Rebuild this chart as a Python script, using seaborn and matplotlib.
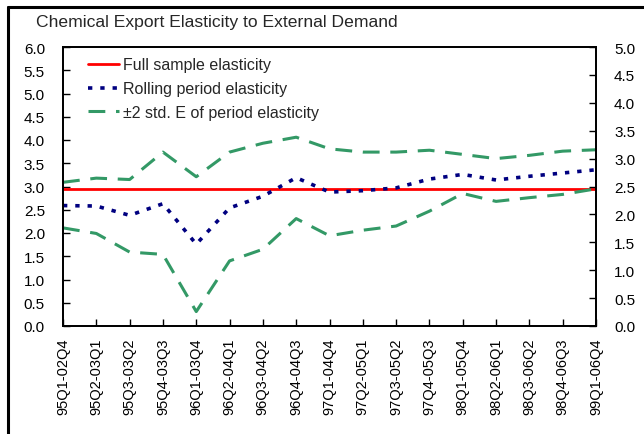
import matplotlib
matplotlib.use("Agg")
import matplotlib.pyplot as plt
import seaborn as sns
import numpy as np
import pandas as pd
from matplotlib.lines import Line2D

categories = ["95Q1-02Q4", "95Q2-03Q1", "95Q3-03Q2", "95Q4-03Q3", "96Q1-03Q4",
              "96Q2-04Q1", "96Q3-04Q2", "96Q4-04Q3", "97Q1-04Q4", "97Q2-05Q1",
              "97Q3-05Q2", "97Q4-05Q3", "98Q1-05Q4", "98Q2-06Q1", "98Q3-06Q2",
              "98Q4-06Q3", "99Q1-06Q4"]
full_sample = [2.95] * 17
rolling = [2.59, 2.58, 2.38, 2.63, 1.76, 2.54, 2.79, 3.19, 2.88, 2.91,
           2.97, 3.16, 3.26, 3.14, 3.22, 3.29, 3.36]
upper = [3.09, 3.18, 3.15, 3.74, 3.21, 3.74, 3.93, 4.06, 3.81, 3.74,
         3.74, 3.78, 3.69, 3.60, 3.67, 3.76, 3.79]
lower = [2.11, 1.99, 1.59, 1.54, 0.31, 1.40, 1.65, 2.31, 1.94, 2.06,
         2.15, 2.47, 2.85, 2.68, 2.76, 2.83, 2.95]
left_ticks = [0.0, 0.5, 1.0, 1.5, 2.0, 2.5, 3.0, 3.5, 4.0, 4.5, 5.0, 5.5, 6.0]
right_ticks = [0.0, 0.5, 1.0, 1.5, 2.0, 2.5, 3.0, 3.5, 4.0, 4.5, 5.0]

sns.set_theme(style="white")
plt.rcParams['font.family'] = ['Liberation Sans', 'DejaVu Sans']

fig = plt.figure(figsize=(6.44, 4.35), dpi=100)
ax = fig.add_axes([63/644, 1 - 327/435, (596-63)/644, (327-48)/435])

x = np.arange(len(categories))
df = pd.DataFrame({"x": x, "full": full_sample, "rolling": rolling,
                   "upper": upper, "lower": lower})

green = "#339966"
sns.lineplot(data=df, x="x", y="full", ax=ax, color="#ff0000", lw=2,
             label="Full sample elasticity")
sns.lineplot(data=df, x="x", y="rolling", ax=ax, color="#000080", lw=2.6,
             linestyle=(0, (1.2, 2.2)), label="Rolling period elasticity")
sns.lineplot(data=df, x="x", y="upper", ax=ax, color=green, lw=2.2,
             linestyle=(0, (5.5, 3.5)), label="\u00b12 std. E of period elasticity")
sns.lineplot(data=df, x="x", y="lower", ax=ax, color=green, lw=2.2,
             linestyle=(0, (5.5, 3.5)))

ax.set_xlim(0, len(categories) - 1)
ax.set_ylim(0, 6)
ax.set_yticks(left_ticks)
ax.set_yticklabels([f"{t:.1f}" for t in left_ticks], fontsize=11)
ax.set_xticks(x)
ax.set_xticklabels(categories, rotation=90, fontsize=10.5)
ax.set_xlabel("")
ax.set_ylabel("")
for s in ax.spines.values():
    s.set_color("black")
    s.set_linewidth(1.3)
ax.tick_params(axis="both", direction="in", length=5, width=1, colors="black",
               labelcolor="black")
ax.tick_params(axis="y", left=True, pad=13)
ax.tick_params(axis="x", bottom=True, pad=8)

ax2 = ax.twinx()
ax2.set_ylim(0, 5)
ax2.set_yticks(right_ticks)
ax2.set_yticklabels([f"{t:.1f}" for t in right_ticks], fontsize=11)
ax2.tick_params(axis="y", direction="in", length=5, width=1, right=True,
                colors="black", labelcolor="black", pad=13)
for s in ax2.spines.values():
    s.set_color("black")
    s.set_linewidth(1.3)

leg = ax.legend(loc="upper left", bbox_to_anchor=(0.028, 1.0), frameon=False,
                fontsize=11.5, handlelength=1.9, handletextpad=0.25,
                labelspacing=0.55, borderaxespad=0.25)

fig.text(36/644, 1 - 22/435, "Chemical Export Elasticity to External Demand",
         fontsize=12.6, ha="left", va="center")

yt = 1 - 7.5/435
xl = 7.5/644
fig.lines.append(Line2D([xl, xl], [-0.05, yt], transform=fig.transFigure,
                        color="black", lw=2.2))
fig.lines.append(Line2D([xl, 1.05], [yt, yt], transform=fig.transFigure,
                        color="black", lw=2.2))

fig.savefig("out.png", dpi=100)
